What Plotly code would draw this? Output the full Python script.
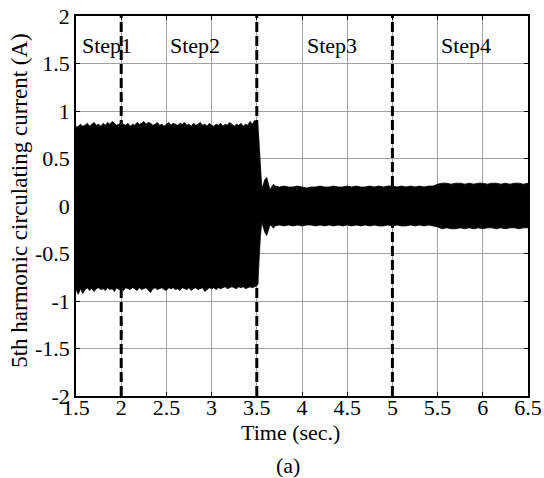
import plotly.graph_objects as go

# ---- data (envelope of the dense 5th-harmonic signal) ----
t_steady1 = [round(1.5 + 0.025 * i, 3) for i in range(81)]  # sample times 1.5 .. 3.5
upper_steady1 = [0.83, 0.84, 0.86, 0.84, 0.85, 0.87, 0.84, 0.86, 0.88, 0.85,
                 0.86, 0.84, 0.87, 0.85, 0.88, 0.86, 0.89, 0.87, 0.85, 0.86,
                 0.88, 0.86, 0.85, 0.87, 0.84, 0.86, 0.85, 0.88, 0.86, 0.87,
                 0.89, 0.86, 0.88, 0.87, 0.85, 0.86, 0.88, 0.85, 0.86, 0.84,
                 0.86, 0.88, 0.85, 0.87, 0.86, 0.85, 0.87, 0.86, 0.88, 0.85,
                 0.86, 0.84, 0.87, 0.85, 0.86, 0.88, 0.85, 0.86, 0.84, 0.87,
                 0.85, 0.84, 0.86, 0.85, 0.87, 0.84, 0.86, 0.85, 0.88, 0.86,
                 0.84, 0.86, 0.85, 0.87, 0.84, 0.86, 0.85, 0.89, 0.86, 0.90,
                 0.87]
lower_steady1 = [-0.88, -0.93, -0.87, -0.92, -0.88, -0.86, -0.89, -0.87, -0.90, -0.87,
                 -0.86, -0.88, -0.87, -0.89, -0.86, -0.88, -0.87, -0.90, -0.86, -0.88,
                 -0.87, -0.89, -0.86, -0.87, -0.88, -0.86, -0.87, -0.89, -0.86, -0.88,
                 -0.87, -0.86, -0.88, -0.91, -0.87, -0.86, -0.88, -0.87, -0.86, -0.88,
                 -0.89, -0.86, -0.87, -0.86, -0.88, -0.87, -0.89, -0.86, -0.87, -0.88,
                 -0.86, -0.89, -0.87, -0.86, -0.88, -0.87, -0.86, -0.90, -0.88, -0.86,
                 -0.87, -0.86, -0.88, -0.86, -0.87, -0.86, -0.85, -0.87, -0.86, -0.85,
                 -0.86, -0.87, -0.85, -0.86, -0.85, -0.87, -0.86, -0.85, -0.86, -0.85,
                 -0.84]

t_trans = [3.51, 3.52, 3.53, 3.54, 3.555, 3.57, 3.59, 3.61, 3.63, 3.645, 3.665, 3.685, 3.70]
upper_trans = [0.85, 0.75, 0.55, 0.35, 0.19, 0.22, 0.28, 0.30, 0.24, 0.17, 0.20, 0.23, 0.21]
lower_trans = [-0.83, -0.70, -0.50, -0.32, -0.17, -0.22, -0.28, -0.31, -0.25, -0.20, -0.21, -0.235, -0.21]

t_steady2 = [round(3.75 + 0.05 * i, 3) for i in range(56)]  # sample times 3.75 .. 6.5
upper_steady2 = [0.20, 0.21, 0.20, 0.20, 0.21, 0.20, 0.19, 0.20, 0.20, 0.21,
                 0.20, 0.20, 0.21, 0.20, 0.20, 0.21, 0.20, 0.21, 0.20, 0.20,
                 0.21, 0.20, 0.21, 0.20, 0.21, 0.21, 0.20, 0.21, 0.20, 0.21,
                 0.20, 0.21, 0.20, 0.21, 0.21, 0.23, 0.24, 0.24, 0.23, 0.24,
                 0.24, 0.23, 0.24, 0.23, 0.24, 0.24, 0.23, 0.24, 0.24, 0.23,
                 0.24, 0.23, 0.24, 0.24, 0.23, 0.24]
lower_steady2 = [-0.20, -0.21, -0.20, -0.21, -0.20, -0.21, -0.20, -0.20, -0.21, -0.20,
                 -0.21, -0.20, -0.21, -0.20, -0.21, -0.20, -0.21, -0.20, -0.21, -0.20,
                 -0.21, -0.20, -0.21, -0.21, -0.20, -0.21, -0.20, -0.21, -0.21, -0.20,
                 -0.21, -0.20, -0.21, -0.20, -0.21, -0.22, -0.24, -0.23, -0.24, -0.24,
                 -0.23, -0.24, -0.23, -0.24, -0.23, -0.24, -0.23, -0.23, -0.24, -0.23,
                 -0.24, -0.23, -0.23, -0.24, -0.23, -0.23]

step_times = [2.0, 3.5, 5.0]
step_labels = ["Step1", "Step2", "Step3", "Step4"]
step_label_x = [1.545, 2.52, 4.03, 5.51]
step_label_y = 1.69

x_ticks = [1.5, 2, 2.5, 3, 3.5, 4, 4.5, 5, 5.5, 6, 6.5]
x_ticktext = ["1.5", "2", "2.5", "3", "3.5", "4", "4.5", "5", "5.5", "6", "6.5"]
y_ticks = [-2, -1.5, -1, -0.5, 0, 0.5, 1, 1.5, 2]
y_ticktext = ["-2", "-1.5", "-1", "-0.5", "0", "0.5", "1", "1.5", "2"]

# ---- build ----
t = t_steady1 + t_trans + t_steady2
upper = upper_steady1 + upper_trans + upper_steady2
lower = lower_steady1 + lower_trans + lower_steady2

FONT = "Liberation Serif"
fig = go.Figure()

fig.add_trace(go.Scatter(
    x=t + t[::-1], y=upper + lower[::-1],
    fill="toself", fillcolor="black", mode="lines",
    line=dict(color="black", width=0.8), hoverinfo="skip", showlegend=False))

for st in step_times:
    fig.add_trace(go.Scatter(
        x=[st, st], y=[y_ticks[0], y_ticks[-1]], mode="lines",
        line=dict(color="black", width=3, dash="10px,4px"),
        showlegend=False, hoverinfo="skip"))

for lab, lx in zip(step_labels, step_label_x):
    fig.add_annotation(x=lx, y=step_label_y, text=lab, showarrow=False,
                       xanchor="left", yanchor="middle",
                       font=dict(family=FONT, size=22, color="black"))

fig.add_annotation(x=0.475, y=-0.095, xref="paper", yref="paper",
                   text="Time (sec.)", showarrow=False, xanchor="center", yanchor="middle",
                   font=dict(family=FONT, size=22, color="black"))
fig.add_annotation(x=0.469, y=-0.182, xref="paper", yref="paper",
                   text="(a)", showarrow=False, xanchor="center", yanchor="middle",
                   font=dict(family=FONT, size=22, color="black"))
fig.add_annotation(x=-0.124, y=0.516, xref="paper", yref="paper",
                   text="5th harmonic circulating current (A)", showarrow=False,
                   textangle=-90, xanchor="center", yanchor="middle",
                   font=dict(family=FONT, size=23, color="black"))

axis_common = dict(showgrid=True, gridcolor="#a0a0a0", gridwidth=1,
                   showline=True, linecolor="black", linewidth=1.5, mirror="ticks",
                   ticks="inside", ticklen=4, tickcolor="black", zeroline=False,
                   automargin=False,
                   tickfont=dict(family=FONT, size=22, color="black"))
fig.update_xaxes(range=[1.5, 6.5], tickvals=x_ticks, ticktext=x_ticktext,
                 ticklabelstandoff=-9, **axis_common)
fig.update_yaxes(range=[-2, 2], tickvals=y_ticks, ticktext=y_ticktext, **axis_common)

fig.update_layout(width=544, height=478, margin=dict(l=76, r=16, t=16, b=82),
                  plot_bgcolor="white", paper_bgcolor="white", showlegend=False)

fig.write_html("out.html")
